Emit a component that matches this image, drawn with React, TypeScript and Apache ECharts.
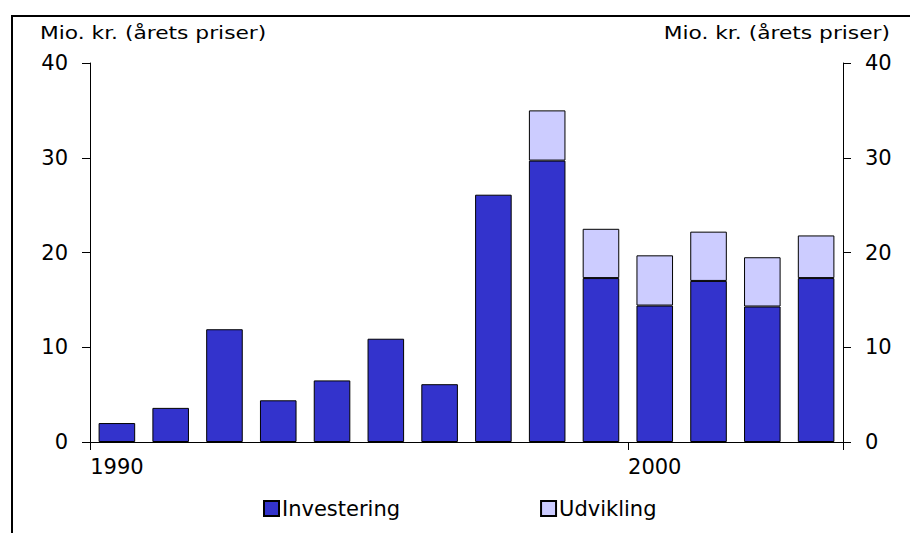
import React, { useEffect, useRef } from "react";
import * as echarts from "echarts";

const years = ["1990", "1991", "1992", "1993", "1994", "1995", "1996", "1997", "1998", "1999", "2000", "2001", "2002", "2003"];
const investering = [2.0, 3.6, 11.9, 4.4, 6.5, 10.9, 6.1, 26.1, 29.7, 17.3, 14.4, 17.0, 14.3, 17.3];
const udvikling = [0, 0, 0, 0, 0, 0, 0, 0, 5.3, 5.2, 5.3, 5.2, 5.2, 4.5];
const axisTitle = "Mio. kr. (årets priser)";

const FONT = "DejaVu Sans";

export default function App() {
  const ref = useRef<HTMLDivElement>(null);
  useEffect(() => {
    document.body.style.margin = "0";
    const chart = echarts.init(ref.current!, null, { renderer: "svg" });
    const yAxisBase = {
      type: "value" as const,
      min: 0,
      max: 40,
      interval: 10,
      axisLine: { show: true, lineStyle: { color: "#000", width: 1 } },
      axisTick: { show: true, inside: false, length: 8, lineStyle: { color: "#000" } },
      splitLine: { show: false },
      axisLabel: { color: "#000", fontSize: 21, fontFamily: FONT, margin: 22 },
    };
    chart.setOption({
      animation: false,
      backgroundColor: "#fff",
      grid: { left: 90, right: 67, top: 63, bottom: 91, containLabel: false },
      xAxis: {
        type: "category",
        data: years,
        boundaryGap: true,
        axisLine: { show: true, lineStyle: { color: "#000", width: 1 } },
        axisTick: {
          show: true,
          length: 8,
          alignWithLabel: false,
          interval: (i: number) => i % 10 === 0,
          lineStyle: { color: "#000" },
        },
        axisLabel: {
          interval: (i: number) => i % 10 === 0,
          color: "#000",
          fontSize: 21,
          fontFamily: FONT,
          margin: 14,
        },
      },
      yAxis: [
        { ...yAxisBase, position: "left" },
        { ...yAxisBase, position: "right" },
      ],
      legend: {
        bottom: 9,
        left: 258,
        itemGap: 140,
        itemWidth: 15,
        itemHeight: 15,
        icon: "rect",
        textStyle: { color: "#000", fontSize: 21, fontFamily: FONT, padding: [0, 0, 0, -2] },
        data: ["Investering", "Udvikling"],
      },
      graphic: [
        {
          type: "rect",
          shape: { x: 12, y: 16, width: 1000, height: 1000 },
          style: { fill: "none", stroke: "#000", lineWidth: 2 },
          silent: true,
          z: 100,
        },
        {
          type: "text",
          x: 40,
          y: 25,
          scaleX: 1.28,
          style: { text: axisTitle, fontSize: 17, fontFamily: FONT, fill: "#000", align: "left", verticalAlign: "top" },
        },
        {
          type: "text",
          x: 890,
          y: 25,
          scaleX: 1.28,
          style: { text: axisTitle, fontSize: 17, fontFamily: FONT, fill: "#000", align: "right", verticalAlign: "top" },
        },
      ],
      series: [
        {
          name: "Investering",
          type: "bar",
          stack: "total",
          data: investering,
          barWidth: "68%",
          itemStyle: { color: "#3333CC", borderColor: "#000", borderWidth: 1 },
        },
        {
          name: "Udvikling",
          type: "bar",
          stack: "total",
          data: udvikling.map((v) => (v === 0 ? null : v)),
          barWidth: "68%",
          itemStyle: { color: "#CCCCFF", borderColor: "#000", borderWidth: 1 },
        },
      ],
    });
    return () => chart.dispose();
  }, []);
  return <div ref={ref} style={{ position: "absolute", left: 0, top: 0, width: 910, height: 533 }} />;
}
